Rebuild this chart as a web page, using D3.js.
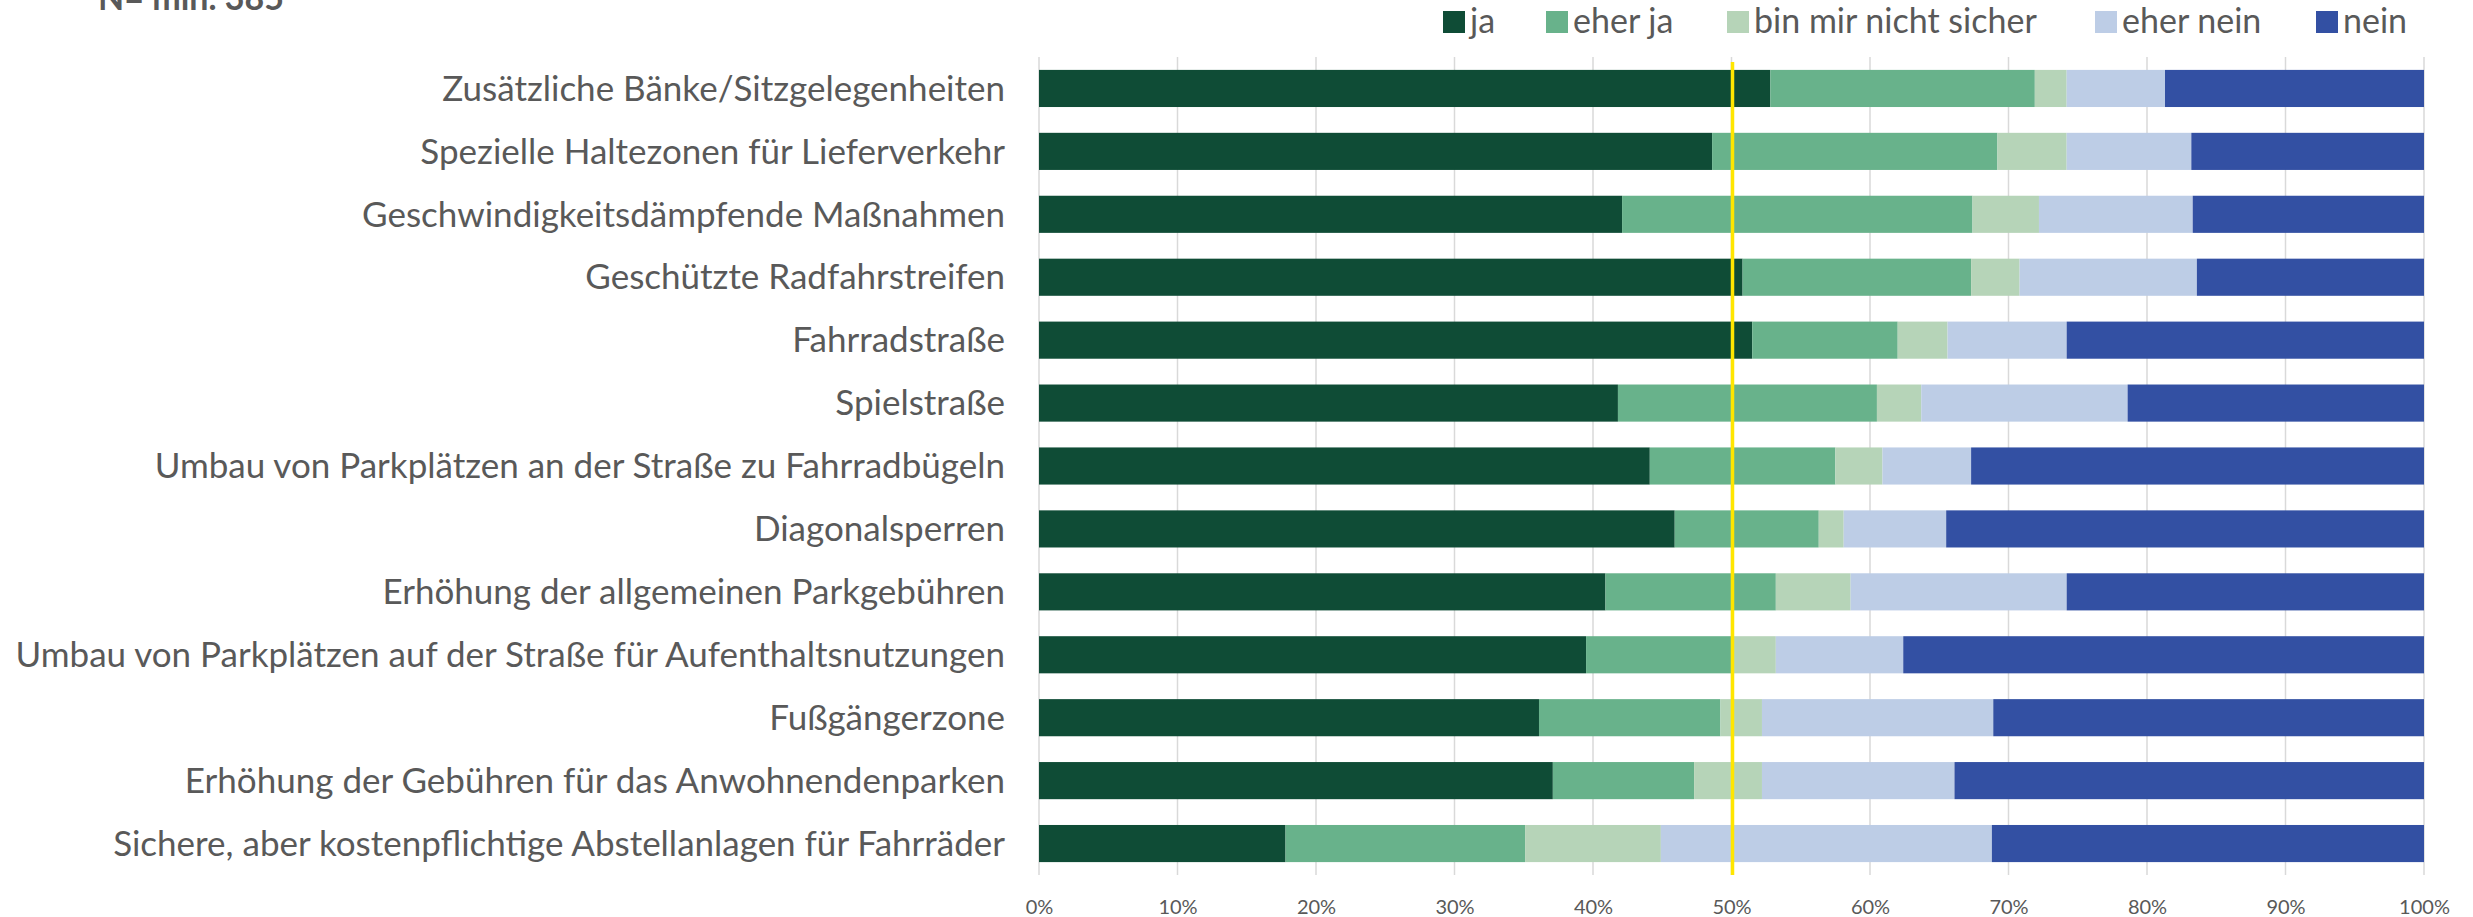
<!DOCTYPE html>
<html>
<head>
<meta charset="utf-8">
<script src="https://cdn.jsdelivr.net/npm/d3@7"></script>
<style>
    body { margin: 0; background: #fff; }
    text { font-family: Lato, "Open Sans", sans-serif; fill: #595959; }
</style>
</head>
<body>
<div id="chart"></div>
<script>
// categories (top to bottom)
var categories = [
    "Zusätzliche Bänke/Sitzgelegenheiten",
    "Spezielle Haltezonen für Lieferverkehr",
    "Geschwindigkeitsdämpfende Maßnahmen",
    "Geschützte Radfahrstreifen",
    "Fahrradstraße",
    "Spielstraße",
    "Umbau von Parkplätzen an der Straße zu Fahrradbügeln",
    "Diagonalsperren",
    "Erhöhung der allgemeinen Parkgebühren",
    "Umbau von Parkplätzen auf der Straße für Aufenthaltsnutzungen",
    "Fußgängerzone",
    "Erhöhung der Gebühren für das Anwohnendenparken",
    "Sichere, aber kostenpflichtige Abstellanlagen für Fahrräder"
];

var seriesNames = ["ja", "eher ja", "bin mir nicht sicher", "eher nein", "nein"];

// shares in %
var ja         = [52.8, 48.6, 42.1, 50.8, 51.5, 41.8, 44.1, 45.9, 40.9, 39.5, 36.1, 37.1, 17.8];
var eherJa     = [19.1, 20.6, 25.3, 16.5, 10.5, 18.7, 13.4, 10.4, 12.3, 10.6, 13.1, 10.2, 17.3];
var unsicher   = [ 2.3,  5.0,  4.8,  3.5,  3.6,  3.2,  3.4,  1.8,  5.4,  3.1,  3.0,  4.9,  9.8];
var eherNein   = [ 7.1,  9.0, 11.1, 12.8,  8.6, 14.9,  6.4,  7.4, 15.6,  9.2, 16.7, 13.9, 23.9];
var nein       = [18.7, 16.8, 16.7, 16.4, 25.8, 21.4, 32.7, 34.5, 25.8, 37.6, 31.1, 33.9, 31.2];

var tickValues = [0, 10, 20, 30, 40, 50, 60, 70, 80, 90, 100];
var sampleNote = "N= min. 385";
var markerValue = 50; // gelbe Linie

var colors = ["#0f4c36", "#68b28b", "#b6d4b8", "#bdcde6", "#3350a3"];

var width = 2473, height = 917;

var svg = d3.select("#chart").append("svg")
    .attr("width", width)
    .attr("height", height);

// build rows for the stack
var rows = categories.map(function (c, i) {
    return {
        cat: c,
        "ja": ja[i],
        "eher ja": eherJa[i],
        "bin mir nicht sicher": unsicher[i],
        "eher nein": eherNein[i],
        "nein": nein[i]
    };
});

var stack = d3.stack().keys(seriesNames);
var stacked = stack(rows);

var x = d3.scaleLinear().domain([0, 100]).range([1039, 2424]);
var y = d3.scaleBand()
    .domain(categories)
    .range([57, 875])
    .paddingInner(0.41)
    .paddingOuter(0.205);

var color = d3.scaleOrdinal().domain(seriesNames).range(colors);

// gridlines
svg.append("g")
    .selectAll("line")
    .data(tickValues)
    .enter()
    .append("line")
    .attr("x1", function (d) { return x(d); })
    .attr("x2", function (d) { return x(d); })
    .attr("y1", 57)
    .attr("y2", 875)
    .attr("stroke", "#d9d9d9")
    .attr("stroke-width", 1.5);

// bars
var layers = svg.append("g")
    .selectAll("g")
    .data(stacked)
    .enter()
    .append("g")
    .attr("fill", function (d) { return color(d.key); });

layers.selectAll("rect")
    .data(function (d) { return d; })
    .enter()
    .append("rect")
    .attr("x", function (d) { return x(d[0]); })
    .attr("width", function (d) { return x(d[1]) - x(d[0]); })
    .attr("y", function (d) { return y(d.data.cat); })
    .attr("height", y.bandwidth());

// x axis labels
var xAxis = d3.axisBottom(x)
    .tickValues(tickValues)
    .tickSize(0)
    .tickPadding(0)
    .tickFormat(function (d) { return d + "%"; });

var gx = svg.append("g")
    .attr("transform", "translate(0,914)")
    .call(xAxis);
gx.select(".domain").remove();
gx.selectAll("text")
    .attr("dy", 0)
    .attr("font-size", 20)
    .attr("fill", "#595959")
    .style("font-family", "Lato, sans-serif");

// category labels
svg.append("g")
    .selectAll("text")
    .data(categories)
    .enter()
    .append("text")
    .attr("x", 1005)
    .attr("y", function (d) { return y(d) + y.bandwidth() / 2; })
    .attr("dy", "0.35em")
    .attr("text-anchor", "end")
    .attr("font-size", 35)
    .text(function (d) { return d; });

// yellow line at 50%
svg.append("line")
    .attr("x1", x(markerValue) + 1)
    .attr("x2", x(markerValue) + 1)
    .attr("y1", 62)
    .attr("y2", 875)
    .attr("stroke", "#ffe600")
    .attr("stroke-width", 3.5);

// legend - item positions as in the original
var legendX = [1443, 1546, 1727, 2095, 2316];
var legend = svg.append("g")
    .selectAll("g")
    .data(seriesNames)
    .enter()
    .append("g")
    .attr("transform", function (d, i) { return "translate(" + legendX[i] + ",0)"; });

legend.append("rect")
    .attr("y", 11)
    .attr("width", 22)
    .attr("height", 22)
    .attr("fill", function (d) { return color(d); });

legend.append("text")
    .attr("x", 27)
    .attr("y", 33)
    .attr("font-size", 34)
    .text(function (d) { return d; });

// sample size note, cut off at the top
svg.append("text")
    .attr("x", 98)
    .attr("y", 10)
    .attr("font-size", 34)
    .attr("font-weight", "bold")
    .text(sampleNote);
</script>
</body>
</html>
